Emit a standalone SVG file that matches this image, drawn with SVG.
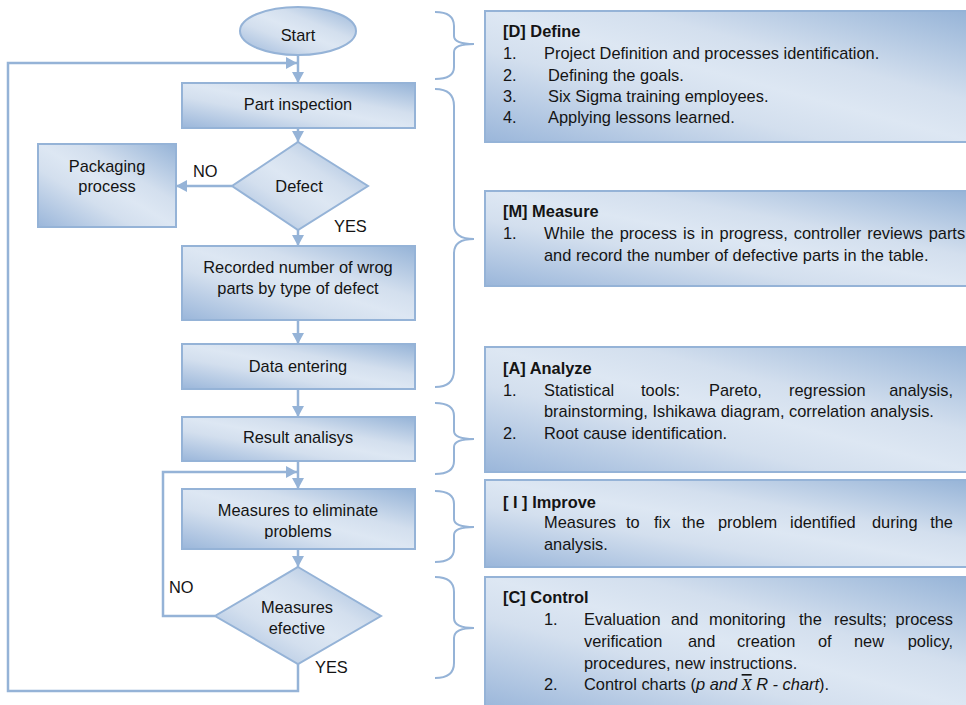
<svg xmlns="http://www.w3.org/2000/svg" width="966" height="705" viewBox="0 0 966 705">
<defs>
<linearGradient id="g" x1="0" y1="1" x2="1" y2="0">
<stop offset="0" stop-color="#9ab6da"/>
<stop offset="0.35" stop-color="#d3dfee"/>
<stop offset="0.5" stop-color="#dde7f3"/>
<stop offset="0.65" stop-color="#d3dfee"/>
<stop offset="1" stop-color="#95b3d7"/>
</linearGradient>
<marker id="ah" markerUnits="userSpaceOnUse" markerWidth="12" markerHeight="12" refX="11" refY="6" orient="auto">
<path d="M0,0 L11,6 L0,12 z" fill="#95b3d7"/>
</marker>
<clipPath id="clipM"><rect x="182" y="489" width="233" height="50"/></clipPath>
</defs>
<style>
.sh{fill:url(#g);stroke:#95b3d7;stroke-width:2}
.t{font-family:"Liberation Sans",Arial,sans-serif;font-size:16.4px;fill:#141414}
.c{text-anchor:middle}
.b{font-weight:bold}
.e{text-anchor:end}
.con{fill:none;stroke:#95b3d7;stroke-width:2.5}
.br{fill:none;stroke:#95b3d7;stroke-width:2}
</style>

<g id="connectors">
<path class="con" d="M298,55 V83" marker-end="url(#ah)"/>
<path class="con" d="M298,664 V691 H8 V63 H297" marker-end="url(#ah)"/>
<path class="con" d="M298,128 V142" marker-end="url(#ah)"/>
<path class="con" d="M232,186 H176" marker-end="url(#ah)"/>
<path class="con" d="M298,230 V246" marker-end="url(#ah)"/>
<path class="con" d="M298,320 V344" marker-end="url(#ah)"/>
<path class="con" d="M298,389 V417" marker-end="url(#ah)"/>
<path class="con" d="M298,461 V489" marker-end="url(#ah)"/>
<path class="con" d="M215,616 H163 V472 H297" marker-end="url(#ah)"/>
<path class="con" d="M298,549 V567" marker-end="url(#ah)"/>
<text class="t" x="193" y="177">NO</text>
<text class="t" x="334" y="232">YES</text>
<text class="t" x="169" y="593">NO</text>
<text class="t" x="315" y="673">YES</text>
</g>

<g id="start">
<ellipse class="sh" cx="298" cy="31" rx="58" ry="24"/>
<text class="t c" x="298" y="41">Start</text>
</g>
<g id="part-inspection">
<rect class="sh" x="182" y="83" width="233" height="45"/>
<text class="t c" x="298" y="110">Part inspection</text>
</g>
<g id="defect">
<polygon class="sh" points="298,142 368,186 298,230 232,186"/>
<text class="t c" x="299" y="192">Defect</text>
</g>
<g id="packaging">
<rect class="sh" x="38" y="144" width="138" height="83"/>
<text class="t c" x="107" y="172">Packaging</text>
<text class="t c" x="107" y="192">process</text>
</g>
<g id="recorded">
<rect class="sh" x="182" y="246" width="233" height="74"/>
<text class="t c" x="298" y="273">Recorded number of wrog</text>
<text class="t c" x="298" y="294">parts by type of defect</text>
</g>
<g id="data-entering">
<rect class="sh" x="182" y="344" width="233" height="45"/>
<text class="t c" x="298" y="372">Data entering</text>
</g>
<g id="result-analysis">
<rect class="sh" x="182" y="417" width="233" height="44"/>
<text class="t c" x="298" y="443">Result analisys</text>
</g>
<g id="measures">
<rect class="sh" x="182" y="489" width="233" height="60"/>
<g clip-path="url(#clipM)">
<text class="t c" x="298" y="516">Measures to eliminate</text>
<text class="t c" x="298" y="537">problems</text>
</g>
</g>
<g id="measures-effective">
<polygon class="sh" points="298,567 381,616 298,664 215,616"/>
<text class="t c" x="297" y="613">Measures</text>
<text class="t c" x="297" y="634">efective</text>
</g>

<g id="braces">
<path class="br" d="M435,12 Q454,12 454,26 V36 Q454,44 474,44 Q454,44 454,52 V67 Q454,79 435,79"/>
<path class="br" d="M435,89 Q454,89 454,106 V225 Q454,239 474,239 Q454,239 454,253 V370 Q454,387 435,387"/>
<path class="br" d="M435,403 Q454,403 454,416 V431 Q454,439 474,439 Q454,439 454,447 V461 Q454,474 435,474"/>
<path class="br" d="M435,491 Q454,491 454,504 V519 Q454,527 474,527 Q454,527 454,535 V549 Q454,562 435,562"/>
<path class="br" d="M435,577 Q454,577 454,592 V618 Q454,628 474,628 Q454,628 454,638 V663 Q454,678 435,678"/>
</g>

<g id="define">
<rect class="sh" x="485" y="11" width="490" height="131"/>
<text class="t b" x="503" y="37">[D] Define</text>
<text class="t" x="503" y="59">1.</text><text class="t" x="544" y="59">Project Definition and processes identification.</text>
<text class="t" x="503" y="81">2.</text><text class="t" x="548" y="81">Defining the goals.</text>
<text class="t" x="503" y="102">3.</text><text class="t" x="548" y="102">Six Sigma training employees.</text>
<text class="t" x="503" y="123">4.</text><text class="t" x="548" y="123">Applying lessons learned.</text>
</g>

<g id="measure">
<rect class="sh" x="485" y="191" width="490" height="95"/>
<text class="t b" x="503" y="217">[M] Measure</text>
<text class="t" x="503" y="239">1.</text><text class="t" x="544" y="239" word-spacing="1.4">While the process is in progress, controller reviews parts</text>
<text class="t" x="544" y="261">and record the number of defective parts in the table.</text>
</g>

<g id="analyze">
<rect class="sh" x="485" y="347" width="490" height="125"/>
<text class="t b" x="503" y="374">[A] Analyze</text>
<text class="t" x="503" y="396">1.</text>
<text class="t" y="396"><tspan x="544">Statistical</tspan><tspan x="641">tools:</tspan><tspan x="709">Pareto,</tspan><tspan x="789">regression</tspan></text>
<text class="t e" x="953" y="396">analysis,</text>
<text class="t" x="544" y="417">brainstorming, Ishikawa diagram, correlation analysis.</text>
<text class="t" x="503" y="439">2.</text><text class="t" x="544" y="439">Root cause identification.</text>
</g>

<g id="improve">
<rect class="sh" x="485" y="480" width="490" height="87"/>
<text class="t b" x="503" y="508">[ I ] Improve</text>
<text class="t" y="528"><tspan x="544">Measures</tspan><tspan x="626">to</tspan><tspan x="654">fix</tspan><tspan x="682">the</tspan><tspan x="718">problem</tspan><tspan x="790">identified</tspan><tspan x="872">during</tspan></text>
<text class="t e" x="953" y="528">the</text>
<text class="t" x="544" y="550">analysis.</text>
</g>

<g id="control">
<rect class="sh" x="485" y="577" width="490" height="132"/>
<text class="t b" x="503" y="603">[C] Control</text>
<text class="t" x="544" y="625">1.</text>
<text class="t" y="625"><tspan x="584">Evaluation</tspan><tspan x="671">and</tspan><tspan x="709">monitoring</tspan><tspan x="799">the</tspan><tspan x="834">results;</tspan></text>
<text class="t e" x="953" y="625">process</text>
<text class="t" y="647"><tspan x="584">verification</tspan><tspan x="688">and</tspan><tspan x="737">creation</tspan><tspan x="818">of</tspan><tspan x="854">new</tspan></text>
<text class="t e" x="953" y="647">policy,</text>
<text class="t" x="584" y="669">procedures, new instructions.</text>
<text class="t" x="544" y="690">2.</text>
<text class="t" x="584" y="690">Control charts (<tspan font-style="italic">p and </tspan><tspan font-family="Liberation Serif, serif" font-style="italic" text-decoration="overline">X</tspan><tspan font-style="italic"> R - chart</tspan>).</text>
</g>
</svg>
